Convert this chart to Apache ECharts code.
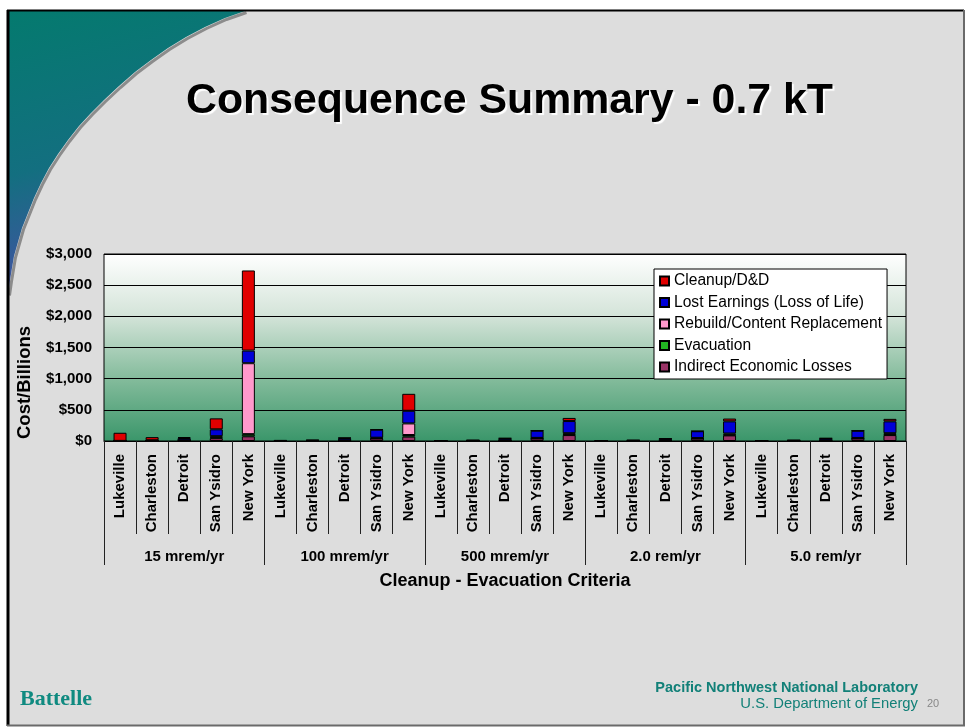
<!DOCTYPE html>
<html>
<head>
<meta charset="utf-8">
<script src="https://cdn.jsdelivr.net/npm/echarts@6/dist/echarts.min.js"></script>
<style>
  html, body { margin: 0; padding: 0; background: #ffffff; }
  #chart { width: 966px; height: 727px; }
</style>
</head>
<body>
<div id="chart"></div>
<script>
// ---- data ----
const cities = ['Lukeville', 'Charleston', 'Detroit', 'San Ysidro', 'New York'];
const groups = ['15 mrem/yr', '100 mrem/yr', '500 mrem/yr', '2.0 rem/yr', '5.0 rem/yr'];
const seriesNames = ['Cleanup/D&D', 'Lost Earnings (Loss of Life)', 'Rebuild/Content Replacement', 'Evacuation', 'Indirect Economic Losses'];
// values in $ billions, ordered group by group, city by city
const indirect    = [0, 5, 10, 45, 75,   0, 3, 10, 40, 70,   0, 3, 10, 40, 95,   0, 3, 10, 38, 90,   0, 3, 10, 40, 95];
const evacuation  = [2, 2, 3, 12, 35,    1, 1, 2, 5, 26,     0, 1, 2, 5, 10,     0, 1, 2, 4, 10,     0, 1, 2, 4, 10];
const rebuild     = [0, 0, 0, 20, 1138,  0, 0, 0, 8, 186,    0, 0, 0, 5, 20,     0, 0, 0, 5, 20,     0, 0, 0, 5, 20];
const lostEarnings= [0, 5, 35, 110, 202, 3, 8, 35, 128, 203, 0, 8, 30, 115, 195, 0, 8, 25, 110, 195, 0, 8, 30, 115, 190];
const cleanup     = [130, 50, 15, 176, 1286, 10, 5, 5, 5, 272, 2, 2, 3, 3, 50, 0, 2, 2, 3, 45, 0, 2, 2, 3, 40];
const categories = groups.flatMap(() => cities);

// ---- chart ----
const chart = echarts.init(document.getElementById('chart'), null, { renderer: 'canvas' });
const FONT = "'Liberation Sans', Arial, sans-serif";
const colors = {
  cleanup: '#e00000', lost: '#0000d8', rebuild: '#ff99cc', evac: '#22b422', indirect: '#993366'
};
const curvePts = [[245,11],[225,18],[205,27],[186,37],[168,48],[151,60],[135,72],[119,86],[104,100],[91,113],[79,126],[68,140],[58,154],[49,168],[41,183],[34,198],[28,213],[22,228],[18,242],[14,256],[12,268],[10,280],[8,294]];

function barSeries(name, data, color) {
  return {
    name: name, type: 'bar', stack: 'total', data: data, barWidth: 13,
    xAxisIndex: 0, yAxisIndex: 0,
    itemStyle: { color: color, borderColor: '#000', borderWidth: 1 },
    emphasis: { disabled: true }
  };
}

const option = {
  animation: false,
  backgroundColor: 'transparent',
  graphic: [
    { type: 'rect', z: -100, silent: true, shape: { x: 8, y: 11, width: 955, height: 714 },
      style: { fill: '#dddddd', stroke: null } },
    { type: 'polyline', z: -99, silent: true, shape: { points: curvePts.map(p => [p[0] + 1.5, p[1] + 1.5]) },
      style: { stroke: '#8c8c8c', lineWidth: 3, fill: null } },
    { type: 'polygon', z: -98, silent: true, shape: { points: [[8, 11]].concat(curvePts) },
      style: { fill: new echarts.graphic.LinearGradient(0, 0, 0.3, 1, [
        { offset: 0, color: '#047a6e' }, { offset: 0.55, color: '#136f80' }, { offset: 1, color: '#4a4ea8' }
      ]) } },
    { type: 'line', z: -90, silent: true, shape: { x1: 8, y1: 10, x2: 8, y2: 726 }, style: { stroke: '#000', lineWidth: 3 } },
    { type: 'line', z: -90, silent: true, shape: { x1: 7, y1: 10.5, x2: 964, y2: 10.5 }, style: { stroke: '#000', lineWidth: 2 } },
    { type: 'line', z: -90, silent: true, shape: { x1: 964, y1: 10, x2: 964, y2: 726 }, style: { stroke: '#6a6a6a', lineWidth: 2 } },
    { type: 'line', z: -90, silent: true, shape: { x1: 7, y1: 725.5, x2: 965, y2: 725.5 }, style: { stroke: '#6a6a6a', lineWidth: 2 } },
    { type: 'text', z: 10, left: 186, top: 80,
      style: { text: 'Consequence Summary - 0.7 kT', font: "bold 42.8px " + FONT, fill: '#000',
               textShadowColor: '#ffffff', textShadowOffsetX: 2, textShadowOffsetY: 2, textShadowBlur: 1 } },
    { type: 'text', z: 10, left: 20, top: 688,
      style: { text: 'Battelle', font: "bold 22px 'Liberation Serif', 'Times New Roman', serif", fill: '#0f8a80' } },
    { type: 'text', z: 10, right: 48, top: 680,
      style: { text: 'Pacific Northwest National Laboratory', font: "bold 14.5px " + FONT, fill: '#128078' } },
    { type: 'text', z: 10, right: 48, top: 696,
      style: { text: 'U.S. Department of Energy', font: "14.8px " + FONT, fill: '#128078' } },
    { type: 'text', z: 10, left: 927, top: 698,
      style: { text: '20', font: "11px " + FONT, fill: '#888888' } }
  ],
  legend: {
    orient: 'vertical', left: 654, top: 269,
    data: seriesNames,
    backgroundColor: '#ffffff', borderColor: '#000', borderWidth: 1,
    padding: [4, 5, 4, 5],
    itemWidth: 9, itemHeight: 9, itemGap: 5.5,
    icon: 'rect',
    textStyle: { fontFamily: FONT, fontSize: 15.6, color: '#000', lineHeight: 16 },
    selectedMode: false
  },
  grid: {
    left: 104, top: 254, width: 802, height: 187,
    show: true, borderColor: '#000', borderWidth: 1,
    backgroundColor: new echarts.graphic.LinearGradient(0, 0, 0, 1, [
      { offset: 0, color: '#ffffff' }, { offset: 0.33, color: '#d4e4d9' },
      { offset: 0.67, color: '#83bb9b' }, { offset: 1, color: '#3a966a' }
    ])
  },
  xAxis: [
    {
      type: 'category', data: categories, position: 'bottom',
      axisLine: { show: true, lineStyle: { color: '#000', width: 1 } },
      axisTick: { show: true, length: 93, lineStyle: { color: '#222', width: 1 } },
      axisLabel: { rotate: 90, margin: 13, interval: 0, fontFamily: FONT, fontSize: 15, fontWeight: 'bold', color: '#000' },
      name: 'Cleanup - Evacuation Criteria', nameLocation: 'middle', nameGap: 131,
      nameTextStyle: { fontFamily: FONT, fontSize: 18, fontWeight: 'bold', color: '#000' }
    },
    {
      type: 'category', data: groups, position: 'bottom', offset: 0,
      axisLine: { show: false },
      axisTick: { show: true, length: 124, lineStyle: { color: '#222', width: 1 } },
      axisLabel: { margin: 108, interval: 0, fontFamily: FONT, fontSize: 15, fontWeight: 'bold', color: '#000' }
    }
  ],
  yAxis: {
    type: 'value', min: 0, max: 3000, interval: 500,
    axisLine: { show: false }, axisTick: { show: false },
    splitLine: { show: true, lineStyle: { color: '#000', width: 1 } },
    axisLabel: {
      margin: 12, fontFamily: FONT, fontSize: 15, fontWeight: 'bold', color: '#000',
      formatter: v => '$' + v.toLocaleString('en-US')
    },
    name: 'Cost/Billions', nameLocation: 'middle', nameGap: 70,
    nameTextStyle: { fontFamily: FONT, fontSize: 18.5, fontWeight: 'bold', color: '#000', padding: [0, 70, 0, 0] }
  },
  series: [
    barSeries(seriesNames[4], indirect, colors.indirect),
    barSeries(seriesNames[3], evacuation, colors.evac),
    barSeries(seriesNames[2], rebuild, colors.rebuild),
    barSeries(seriesNames[1], lostEarnings, colors.lost),
    barSeries(seriesNames[0], cleanup, colors.cleanup)
  ]
};
chart.setOption(option);
</script>
</body>
</html>
